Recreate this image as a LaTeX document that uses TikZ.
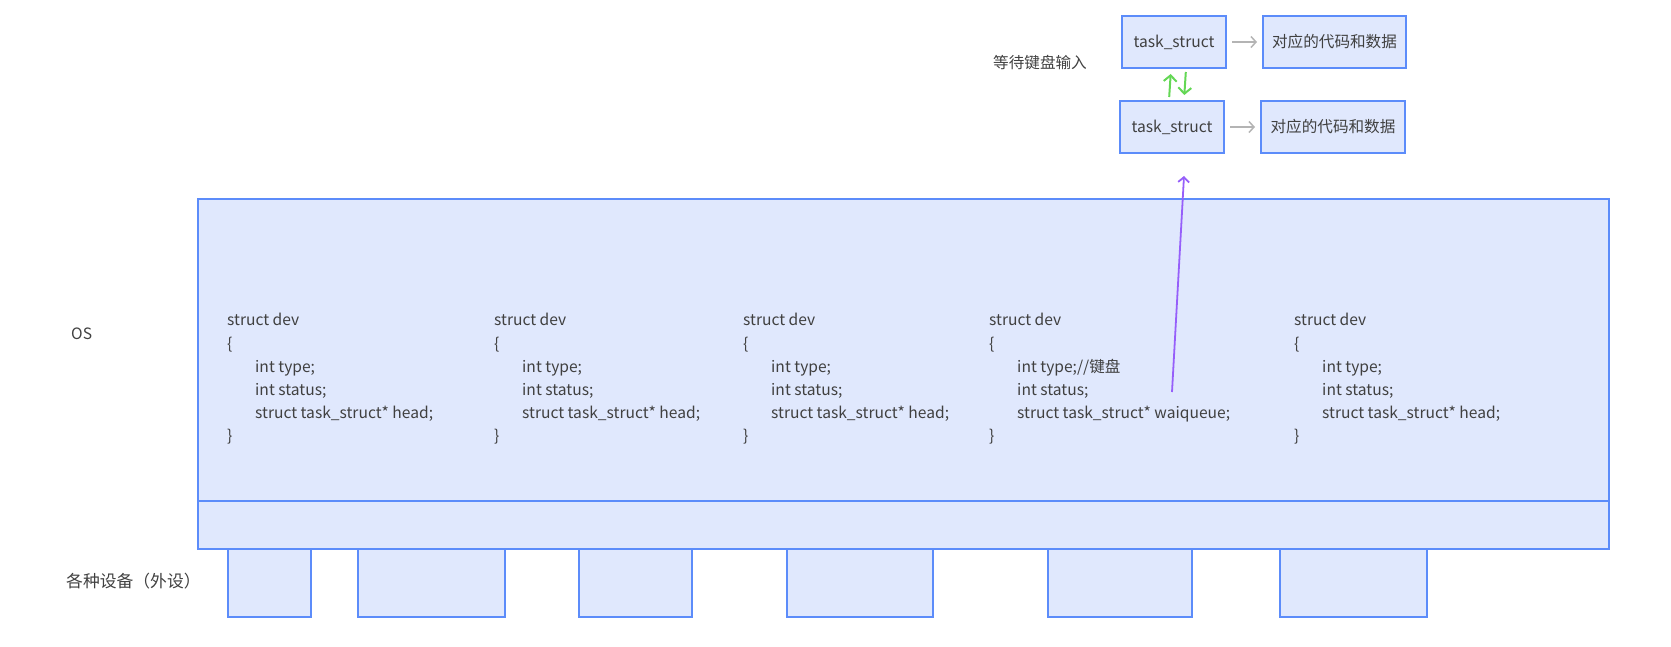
\documentclass[tikz,border=0pt]{standalone}
\usepackage{fontspec}
\setmainfont{Noto Sans CJK SC}
\usetikzlibrary{arrows.meta}
\definecolor{boxfill}{RGB}{224,232,253}
\definecolor{boxdraw}{RGB}{92,140,250}
\definecolor{txt}{RGB}{64,64,64}
\definecolor{grayarr}{RGB}{180,180,180}
\definecolor{greenarr}{RGB}{100,215,85}
\definecolor{purplearr}{RGB}{150,95,250}
\tikzset{
  blockbox/.style={draw=boxdraw, fill=boxfill, line width=2pt, inner sep=0pt, anchor=north west},
  label/.style={text=txt, inner sep=0pt, font=\fontsize{15.6}{18}\selectfont},
  code/.style={text=txt, inner sep=0pt, anchor=west, align=left, font=\fontsize{15.6}{23.2}\selectfont},
  grayconn/.style={draw=grayarr, line width=1.5pt, -{Straight Barb[length=5pt,width=11pt,line width=1.5pt]}, shorten <=5pt, shorten >=5pt},
  greenconn/.style={draw=greenarr, line width=2pt, -{Straight Barb[length=6pt,width=13pt,line width=2pt]}, shorten <=3pt, shorten >=5pt},
  purpleconn/.style={draw=purplearr, line width=1.8pt, -{Straight Barb[length=5pt,width=11pt,line width=1.8pt]}},
}
\newcommand{\ind}{\hspace*{28pt}}
\begin{document}
\begin{tikzpicture}[x=1pt,y=-1pt]
\useasboundingbox (0,0) rectangle (1671,646);
% OS block
\node[blockbox, minimum width=1411pt, minimum height=302pt] (os) at (197,198) {};
\node[blockbox, minimum width=1411pt, minimum height=48pt] (osbar) at (197,500) {};
% devices
\node[blockbox, minimum width=83pt, minimum height=68pt] (dev1) at (227,548) {};
\node[blockbox, minimum width=147pt, minimum height=68pt] (dev2) at (357,548) {};
\node[blockbox, minimum width=113pt, minimum height=68pt] (dev3) at (578,548) {};
\node[blockbox, minimum width=146pt, minimum height=68pt] (dev4) at (786,548) {};
\node[blockbox, minimum width=144pt, minimum height=68pt] (dev5) at (1047,548) {};
\node[blockbox, minimum width=147pt, minimum height=68pt] (dev6) at (1279,548) {};
% labels
\node[label, anchor=west] (oslabel) at (71,334) {OS};
\node[label, anchor=west, font=\fontsize{16.8}{18}\selectfont] (devlabel) at (66,581) {各种设备（外设）};
\node[label, anchor=west] (waitlabel) at (993,63) {等待键盘输入};
% code blocks
\node[code] (c1) at (227,379) {struct dev\\\{\\\ind int type;\\\ind int status;\\\ind struct task\_struct* head;\\\}};
\node[code] (c2) at (494,379) {struct dev\\\{\\\ind int type;\\\ind int status;\\\ind struct task\_struct* head;\\\}};
\node[code] (c3) at (743,379) {struct dev\\\{\\\ind int type;\\\ind int status;\\\ind struct task\_struct* head;\\\}};
\node[code] (c4) at (989,379) {struct dev\\\{\\\ind int type;//键盘\\\ind int status;\\\ind struct task\_struct* waiqueue;\\\}};
\node[code] (c5) at (1294,379) {struct dev\\\{\\\ind int type;\\\ind int status;\\\ind struct task\_struct* head;\\\}};
% task structs
\node[blockbox, minimum width=104pt, minimum height=52pt] (ts1) at (1121,15) {};
\node[label] at (ts1.center) {task\_struct};
\node[blockbox, minimum width=143pt, minimum height=52pt] (cd1) at (1262,15) {};
\node[label] at (cd1.center) {对应的代码和数据};
\node[blockbox, minimum width=104pt, minimum height=52pt] (ts2) at (1119,100) {};
\node[label] at (ts2.center) {task\_struct};
\node[blockbox, minimum width=144pt, minimum height=52pt] (cd2) at (1260,100) {};
\node[label] at (cd2.center) {对应的代码和数据};
% connectors
\draw[grayconn] (ts1.east) -- (cd1.west);
\draw[grayconn] (ts2.east) -- (cd2.west);
\draw[greenconn] ([xshift=-3pt]ts2.north) -- ([xshift=-3pt]ts1.south);
\draw[greenconn] ([xshift=12pt]ts1.south) -- ([xshift=12pt]ts2.north);
\coordinate (wq) at (1172,392);
\draw[purpleconn] (wq) -- ([xshift=12pt,yshift=-22pt]ts2.south);
\end{tikzpicture}
\end{document}
